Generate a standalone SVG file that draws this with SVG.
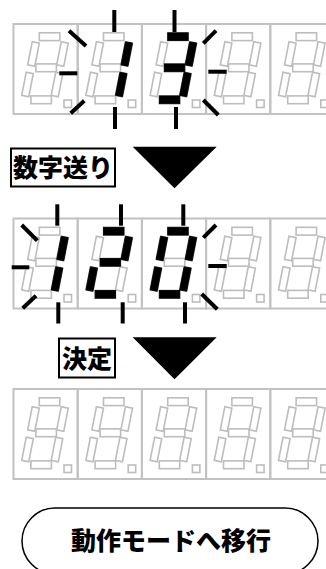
<svg xmlns="http://www.w3.org/2000/svg" width="326" height="569" viewBox="0 0 326 569">
<style>
.box{fill:none;stroke:#c2c2c2;stroke-width:2}
.seg{fill:#fff;stroke:#bdbdbd;stroke-width:1.6}
.on{fill:#000;stroke:#000;stroke-width:0.8}
.flash{stroke:#000;stroke-width:4;fill:none}
.lbl{fill:#fff;stroke:#000;stroke-width:2}
.txt{font-family:"Noto Sans CJK JP","Noto Sans CJK SC",sans-serif;font-weight:900;font-size:25px;fill:#000;text-anchor:middle}
.arrow{fill:#000}
</style>
<defs>
<rect id="sa" x="25.8" y="8.8" width="20.5" height="7.8"/>
<rect id="sg" x="22.4" y="39.9" width="20.5" height="7.8"/>
<rect id="sd" x="17.4" y="71.9" width="20.5" height="7.8"/>
<rect id="sf" x="-3.6" y="-11.8" width="7.2" height="23.6" transform="translate(20 30) rotate(11)"/>
<rect id="sb" x="-3.6" y="-11.8" width="7.2" height="23.6" transform="translate(49 30) rotate(11)"/>
<rect id="se" x="-3.6" y="-11.8" width="7.2" height="23.6" transform="translate(14 60.5) rotate(11)"/>
<rect id="sc" x="-3.6" y="-11.8" width="7.2" height="23.6" transform="translate(43.5 60.5) rotate(11)"/>
<rect id="dp" x="50.5" y="76" width="7.5" height="7.5"/>
<g id="cell">
<rect class="box" x="0" y="0" width="64.2" height="90"/>
<g class="seg">
<use href="#sa"/><use href="#sb"/><use href="#sc"/><use href="#sd"/><use href="#se"/><use href="#sf"/><use href="#sg"/><use href="#dp"/>
</g>
</g>
</defs>
<rect width="326" height="569" fill="#fff"/>

<g id="display1">
<g id="d1c1" transform="translate(13.5 24)"><use href="#cell"/></g>
<g id="d1c2" transform="translate(77.7 24)"><use href="#cell"/><use class="on" href="#sb"/><use class="on" href="#sc"/></g>
<g id="d1c3" transform="translate(141.9 24)"><use href="#cell"/><use class="on" href="#sa"/><use class="on" href="#sb"/><use class="on" href="#sg"/><use class="on" href="#sc"/><use class="on" href="#sd"/></g>
<g id="d1c4" transform="translate(206.1 24)"><use href="#cell"/></g>
<g id="d1c5" transform="translate(270.3 24)"><use href="#cell"/></g>
<g id="flash1" class="flash">
<line x1="114.3" y1="10" x2="114.3" y2="32"/>
<line x1="174.5" y1="10" x2="174.5" y2="32"/>
<line x1="115" y1="107" x2="115" y2="129"/>
<line x1="176" y1="107" x2="176" y2="129"/>
<line x1="69" y1="30.7" x2="86" y2="46"/>
<line x1="59.3" y1="73.3" x2="77.3" y2="73.3"/>
<line x1="70.7" y1="113.3" x2="84.3" y2="100.7"/>
<line x1="203.3" y1="43.3" x2="216" y2="30.7"/>
<line x1="208.3" y1="71.7" x2="226.7" y2="71.7"/>
<line x1="203.3" y1="100" x2="218.3" y2="115"/>
</g>
</g>

<g id="label1">
<rect class="lbl" x="11" y="148.5" width="104" height="38"/>
<text class="txt" x="63" y="176.5">数字送り</text>
</g>

<g id="display2">
<g id="d2c1" transform="translate(13.5 218.5)"><use href="#cell"/><use class="on" href="#sb"/><use class="on" href="#sc"/></g>
<g id="d2c2" transform="translate(77.7 218.5)"><use href="#cell"/><use class="on" href="#sa"/><use class="on" href="#sb"/><use class="on" href="#sg"/><use class="on" href="#se"/><use class="on" href="#sd"/></g>
<g id="d2c3" transform="translate(141.9 218.5)"><use href="#cell"/><use class="on" href="#sa"/><use class="on" href="#sb"/><use class="on" href="#sc"/><use class="on" href="#sd"/><use class="on" href="#se"/><use class="on" href="#sf"/></g>
<g id="d2c4" transform="translate(206.1 218.5)"><use href="#cell"/></g>
<g id="d2c5" transform="translate(270.3 218.5)"><use href="#cell"/></g>
<g id="flash2" class="flash">
<line x1="57.3" y1="204.3" x2="57.3" y2="225.7"/>
<line x1="121" y1="204.3" x2="121" y2="225.7"/>
<line x1="183.3" y1="204.3" x2="183.3" y2="225.7"/>
<line x1="58.3" y1="302.3" x2="58.3" y2="323.5"/>
<line x1="122.7" y1="302.3" x2="122.7" y2="323.5"/>
<line x1="185" y1="302.3" x2="185" y2="323.5"/>
<line x1="21.7" y1="225" x2="37.3" y2="240.7"/>
<line x1="11.7" y1="267.3" x2="29.3" y2="267.3"/>
<line x1="22.7" y1="308.3" x2="36" y2="295.7"/>
<line x1="203.3" y1="237.7" x2="216" y2="225"/>
<line x1="208.3" y1="266" x2="226.7" y2="266"/>
<line x1="201.7" y1="294" x2="217.3" y2="309.3"/>
</g>
</g>

<g id="label2">
<rect class="lbl" x="59" y="338.5" width="56" height="39"/>
<text class="txt" x="87" y="367.5">決定</text>
</g>

<g id="display3">
<g id="d3c1" transform="translate(13.5 389)"><use href="#cell"/></g>
<g id="d3c2" transform="translate(77.7 389)"><use href="#cell"/></g>
<g id="d3c3" transform="translate(141.9 389)"><use href="#cell"/></g>
<g id="d3c4" transform="translate(206.1 389)"><use href="#cell"/></g>
<g id="d3c5" transform="translate(270.3 389)"><use href="#cell"/></g>
</g>

<g id="terminal">
<rect x="22" y="508" width="296" height="66" rx="33" ry="33" fill="#fff" stroke="#000" stroke-width="1.5"/>
<text class="txt" x="171" y="549.5">動作モードへ移行</text>
</g>

<g id="connectors">
<polygon class="arrow" points="132.7,146.7 216.7,146.7 174.5,188.3"/>
<polygon class="arrow" points="132.7,337.3 216.7,337.3 174.5,379.3"/>
</g>
</svg>
